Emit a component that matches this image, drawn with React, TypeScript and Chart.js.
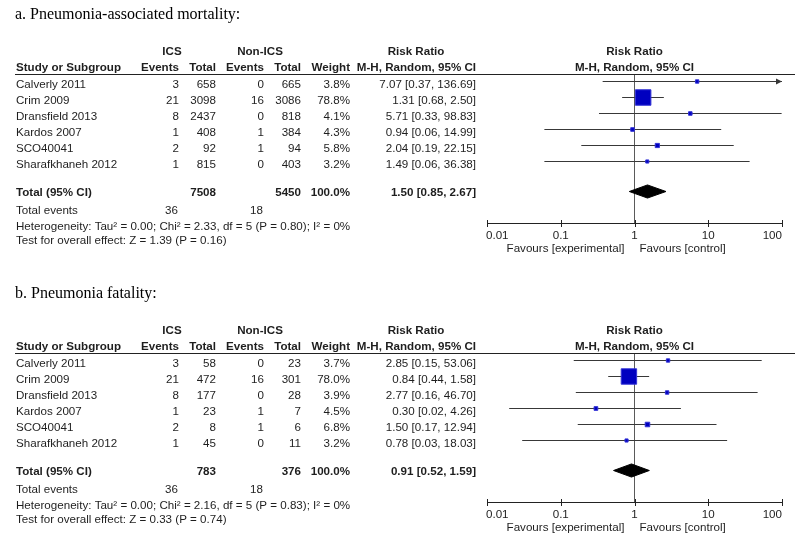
import React, { useEffect, useRef } from 'react';
import { Chart, registerables } from 'chart.js';

Chart.register(...registerables);

// ---------- data ----------
const studies = ['Calverly 2011', 'Crim 2009', 'Dransfield 2013', 'Kardos 2007', 'SCO40041', 'Sharafkhaneh 2012'];
const xTicks = [0.01, 0.1, 1, 10, 100];
const xTickLabels = ['0.01', '0.1', '1', '10', '100'];

// Panel a: Pneumonia-associated mortality
const aIcsEvents = [3, 21, 8, 1, 2, 1];
const aIcsTotal = [658, 3098, 2437, 408, 92, 815];
const aNonEvents = [0, 16, 0, 1, 1, 0];
const aNonTotal = [665, 3086, 818, 384, 94, 403];
const aWeight = [3.8, 78.8, 4.1, 4.3, 5.8, 3.2];
const aRR = [7.07, 1.31, 5.71, 0.94, 2.04, 1.49];
const aLo = [0.37, 0.68, 0.33, 0.06, 0.19, 0.06];
const aHi = [136.69, 2.5, 98.83, 14.99, 22.15, 36.38];
const aTotals = { ics: 7508, non: 5450, icsEv: 36, nonEv: 18, rr: 1.5, lo: 0.85, hi: 2.67 };
const aHet = 'Heterogeneity: Tau\u00B2 = 0.00; Chi\u00B2 = 2.33, df = 5 (P = 0.80); I\u00B2 = 0%';
const aTest = 'Test for overall effect: Z = 1.39 (P = 0.16)';

// Panel b: Pneumonia fatality
const bIcsEvents = [3, 21, 8, 1, 2, 1];
const bIcsTotal = [58, 472, 177, 23, 8, 45];
const bNonEvents = [0, 16, 0, 1, 1, 0];
const bNonTotal = [23, 301, 28, 7, 6, 11];
const bWeight = [3.7, 78.0, 3.9, 4.5, 6.8, 3.2];
const bRR = [2.85, 0.84, 2.77, 0.3, 1.5, 0.78];
const bLo = [0.15, 0.44, 0.16, 0.02, 0.17, 0.03];
const bHi = [53.06, 1.58, 46.7, 4.26, 12.94, 18.03];
const bTotals = { ics: 783, non: 376, icsEv: 36, nonEv: 18, rr: 0.91, lo: 0.52, hi: 1.59 };
const bHet = 'Heterogeneity: Tau\u00B2 = 0.00; Chi\u00B2 = 2.16, df = 5 (P = 0.83); I\u00B2 = 0%';
const bTest = 'Test for overall effect: Z = 0.33 (P = 0.74)';

type PanelData = {
  title: string;
  icsEv: number[]; icsTot: number[]; nonEv: number[]; nonTot: number[];
  weight: number[]; rr: number[]; lo: number[]; hi: number[];
  totals: typeof aTotals; het: string; test: string;
};

const panelA: PanelData = {
  title: 'a. Pneumonia-associated mortality:',
  icsEv: aIcsEvents, icsTot: aIcsTotal, nonEv: aNonEvents, nonTot: aNonTotal,
  weight: aWeight, rr: aRR, lo: aLo, hi: aHi, totals: aTotals, het: aHet, test: aTest,
};
const panelB: PanelData = {
  title: 'b. Pneumonia fatality:',
  icsEv: bIcsEvents, icsTot: bIcsTotal, nonEv: bNonEvents, nonTot: bNonTotal,
  weight: bWeight, rr: bRR, lo: bLo, hi: bHi, totals: bTotals, het: bHet, test: bTest,
};

const SANS = '"Liberation Sans", Arial, sans-serif';
const FS = 11.6;
const TEXT = '#1e1e1e';
const TOTAL_ROW = 6.875;
const X_MIN = 0.01;
const X_MAX = 100;

const fmtCI = (r: number, l: number, h: number) => `${r.toFixed(2)} [${l.toFixed(2)}, ${h.toFixed(2)}]`;

function PanelChart({ p, top, height }: { p: PanelData; top: number; height: number }) {
  const ref = useRef<HTMLCanvasElement>(null);
  useEffect(() => {
    const canvas = ref.current!;
    const datasets: any[] = [];
    // markers (drawn on top: first dataset)
    datasets.push({
      data: p.rr.map((v, i) => ({ x: v, y: i })),
      pointStyle: 'rect',
      pointRadius: p.weight.map((w) => (15.5 * Math.sqrt(w / 78.8)) / Math.SQRT2),
      backgroundColor: '#0000C0',
      borderColor: '#3434d6',
      borderWidth: 1,
      showLine: false,
    });
    // diamond
    const T = TOTAL_ROW;
    const t = p.totals;
    datasets.push({
      data: [
        { x: t.lo, y: T }, { x: t.rr, y: T - 0.41 }, { x: t.hi, y: T },
        { x: t.rr, y: T + 0.41 }, { x: t.lo, y: T },
      ],
      showLine: true,
      fill: 'shape',
      backgroundColor: '#000',
      borderColor: '#000',
      borderWidth: 1,
      pointRadius: 0,
      tension: 0,
    });
    // CI lines
    p.lo.forEach((l, i) => {
      datasets.push({
        data: [{ x: Math.max(l, X_MIN), y: i }, { x: Math.min(p.hi[i], X_MAX), y: i }],
        showLine: true,
        borderColor: '#383838',
        borderWidth: 1,
        pointRadius: 0,
      });
    });
    // line of no effect
    datasets.push({
      data: [{ x: 1, y: -0.46875 }, { x: 1, y: 8.84375 }],
      showLine: true,
      borderColor: '#5a5a5a',
      borderWidth: 1,
      pointRadius: 0,
    });

    const textPlugin = {
      id: 'forestText',
      beforeDraw(chart: any) {
        const ctx = chart.ctx;
        ctx.save();
        ctx.fillStyle = '#fff';
        ctx.fillRect(0, 0, chart.width, chart.height);
        ctx.restore();
      },
      afterDraw(chart: any) {
        const ctx: CanvasRenderingContext2D = chart.ctx;
        const xs = chart.scales.x;
        const ys = chart.scales.y;
        const ca = chart.chartArea;
        const x1 = xs.getPixelForValue(1);
        const txt = (s: string, x: number, y: number, align: CanvasTextAlign, bold = false) => {
          ctx.font = `${bold ? 'bold ' : ''}${FS}px ${SANS}`;
          ctx.textAlign = align;
          ctx.fillText(s, x, y);
        };
        ctx.save();
        ctx.textBaseline = 'middle';
        // title
        ctx.fillStyle = '#000';
        ctx.font = `16px "Liberation Serif", "Times New Roman", serif`;
        ctx.textAlign = 'left';
        ctx.fillText(p.title, 15, 15);
        ctx.fillStyle = TEXT;
        // headers
        txt('ICS', 172, 52, 'center', true);
        txt('Non-ICS', 260, 52, 'center', true);
        txt('Risk Ratio', 416, 52, 'center', true);
        txt('Risk Ratio', x1, 52, 'center', true);
        txt('Study or Subgroup', 16, 67.5, 'left', true);
        txt('Events', 179, 67.5, 'right', true);
        txt('Total', 216, 67.5, 'right', true);
        txt('Events', 264, 67.5, 'right', true);
        txt('Total', 301, 67.5, 'right', true);
        txt('Weight', 350, 67.5, 'right', true);
        txt('M-H, Random, 95% CI', 476, 67.5, 'right', true);
        txt('M-H, Random, 95% CI', x1, 67.5, 'center', true);
        // header rule
        ctx.strokeStyle = '#222';
        ctx.lineWidth = 1;
        ctx.beginPath();
        ctx.moveTo(15, ca.top + 0.5);
        ctx.lineTo(795, ca.top + 0.5);
        ctx.stroke();
        // study rows
        studies.forEach((s, i) => {
          const y = ys.getPixelForValue(i) + 3.5;
          txt(s, 16, y, 'left');
          txt(String(p.icsEv[i]), 179, y, 'right');
          txt(String(p.icsTot[i]), 216, y, 'right');
          txt(String(p.nonEv[i]), 264, y, 'right');
          txt(String(p.nonTot[i]), 301, y, 'right');
          txt(p.weight[i].toFixed(1) + '%', 350, y, 'right');
          txt(fmtCI(p.rr[i], p.lo[i], p.hi[i]), 476, y, 'right');
          if (p.hi[i] > X_MAX) {
            const xr = xs.getPixelForValue(X_MAX);
            const yl = ys.getPixelForValue(i);
            ctx.fillStyle = '#383838';
            ctx.beginPath();
            ctx.moveTo(xr - 6, yl - 3);
            ctx.lineTo(xr, yl);
            ctx.lineTo(xr - 6, yl + 3);
            ctx.closePath();
            ctx.fill();
            ctx.fillStyle = TEXT;
          }
        });
        // total row
        const ty = ys.getPixelForValue(TOTAL_ROW) + 1;
        txt('Total (95% CI)', 16, ty, 'left', true);
        txt(String(t.ics), 216, ty, 'right', true);
        txt(String(t.non), 301, ty, 'right', true);
        txt('100.0%', 350, ty, 'right', true);
        txt(fmtCI(t.rr, t.lo, t.hi), 476, ty, 'right', true);
        txt('Total events', 16, 211, 'left');
        txt(String(t.icsEv), 178, 211, 'right');
        txt(String(t.nonEv), 263, 211, 'right');
        txt(p.het, 16, 226.5, 'left');
        txt(p.test, 16, 241, 'left');
        // x axis
        const ay = ca.bottom + 0.5;
        ctx.strokeStyle = '#222';
        ctx.beginPath();
        ctx.moveTo(xs.getPixelForValue(X_MIN), ay);
        ctx.lineTo(xs.getPixelForValue(X_MAX), ay);
        xTicks.forEach((v) => {
          const px = Math.round(xs.getPixelForValue(v)) + 0.5;
          ctx.moveTo(px, ay - 3.5);
          ctx.lineTo(px, ay + 3.5);
        });
        ctx.stroke();
        xTicks.forEach((v, i) => {
          const px = xs.getPixelForValue(v);
          const al: CanvasTextAlign = i === 0 ? 'left' : i === xTicks.length - 1 ? 'right' : 'center';
          txt(xTickLabels[i], px + (i === 0 ? -1 : 0), ay + 12, al);
        });
        txt('Favours [experimental]', x1 - 10, ay + 25, 'right');
        txt('Favours [control]', x1 + 5, ay + 25, 'left');
        ctx.restore();
      },
    };

    const chart = new Chart(canvas, {
      type: 'scatter',
      data: { datasets },
      options: {
        animation: false,
        responsive: false,
        maintainAspectRatio: false,
        events: [],
        layout: { padding: { left: 487, right: 18, top: 74, bottom: height - 223 } },
        scales: {
          x: { type: 'logarithmic', min: X_MIN, max: X_MAX, display: false },
          y: { type: 'linear', min: -0.46875, max: 8.84375, reverse: true, display: false },
        },
        plugins: { legend: { display: false }, tooltip: { enabled: false } },
      },
      plugins: [textPlugin],
    } as any);
    return () => chart.destroy();
  }, [p, height]);
  return (
    <canvas
      ref={ref}
      width={800}
      height={height}
      style={{ position: 'absolute', left: 0, top, width: 800, height, display: 'block' }}
    />
  );
}

export default function App() {
  return (
    <div style={{ position: 'absolute', left: 0, top: 0, width: 800, height: 540, background: '#fff' }}>
      <PanelChart p={panelA} top={0} height={279} />
      <PanelChart p={panelB} top={279} height={261} />
    </div>
  );
}
